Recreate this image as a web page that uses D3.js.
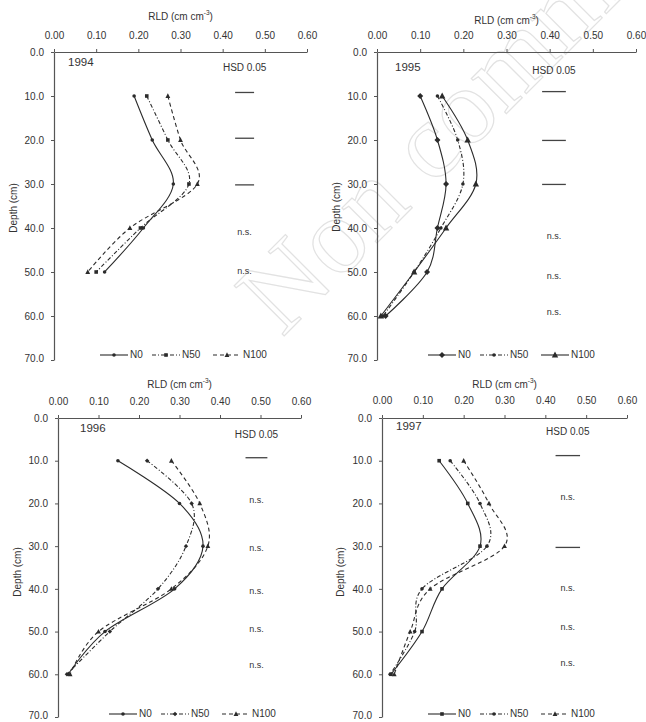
<!DOCTYPE html>
<html><head><meta charset="utf-8">
<script src="https://cdn.jsdelivr.net/npm/d3@7"></script>
<style>
html,body{margin:0;padding:0;background:#fff;}
svg{display:block;font-family:"Liberation Sans",Arial,sans-serif;}
</style></head>
<body>
<svg id="chart" width="646" height="722"></svg>
<script>
// ---------- data ----------
const years = ["1994", "1995", "1996", "1997"];
const seriesNames = ["N0", "N50", "N100"];
const xTicks = [0, 0.1, 0.2, 0.3, 0.4, 0.5, 0.6];
const yTicks = [0, 10, 20, 30, 40, 50, 60, 70];
const depths1994 = [10, 20, 30, 40, 50];
const depths = [10, 20, 30, 40, 50, 60];

const rld1994N0   = [0.190, 0.233, 0.283, 0.212, 0.120];
const rld1994N50  = [0.220, 0.270, 0.320, 0.205, 0.100];
const rld1994N100 = [0.270, 0.300, 0.340, 0.180, 0.080];

const rld1995N0   = [0.100, 0.140, 0.160, 0.140, 0.116, 0.020];
const rld1995N50  = [0.140, 0.187, 0.199, 0.148, 0.086, 0.014];
const rld1995N100 = [0.151, 0.210, 0.229, 0.160, 0.086, 0.009];

const rld1996N0   = [0.148, 0.300, 0.358, 0.288, 0.116, 0.025];
const rld1996N50  = [0.220, 0.330, 0.316, 0.247, 0.128, 0.022];
const rld1996N100 = [0.280, 0.350, 0.370, 0.280, 0.100, 0.030];

const rld1997N0   = [0.140, 0.210, 0.240, 0.147, 0.098, 0.022];
const rld1997N50  = [0.167, 0.240, 0.257, 0.098, 0.080, 0.020];
const rld1997N100 = [0.200, 0.262, 0.300, 0.118, 0.069, 0.030];

// HSD 0.05 annotations: depth (cm) of each entry, and label ("" = bar)
const hsdDepth1994 = [9.2, 19.6, 30.2, 41, 50];
const hsdLabel1994 = ["", "", "", "n.s.", "n.s."];
const hsdDepth1995 = [9, 20.1, 30.1, 42, 51, 59.3];
const hsdLabel1995 = ["", "", "", "n.s.", "n.s.", "n.s."];
const hsdDepth1996 = [9.3, 19.3, 30.5, 40.6, 49.5, 58];
const hsdLabel1996 = ["", "n.s.", "n.s.", "n.s.", "n.s.", "n.s."];
const hsdDepth1997 = [8.8, 18.6, 30.3, 40, 49, 57.6];
const hsdLabel1997 = ["", "n.s.", "", "n.s.", "n.s.", "n.s."];
const hsdValue = [0.045, 0.055, 0.054, 0.06];   // bar length (RLD units)
const hsdCenter = [0.452, 0.410, 0.490, 0.455];   // bar centre (RLD units)

// ---------- layout ----------
const panels = [
  {year: years[0], x0: 54,  x1: 307, y0: 52,  y1: 360, depths: depths1994,
   series: [rld1994N0, rld1994N50, rld1994N100], hsdD: hsdDepth1994, hsdL: hsdLabel1994,
   titleY: 17, tickY: 36, yearX: 68, yearY: 63, hsdTitleY: 68, depthLabX: 14, depthLabY: 208,
   legY: 355, legX: 100,
   styles: [
     {dash: null, marker: "circle", r: 1.8},
     {dash: "4,2,1,2", marker: "square", r: 1.8},
     {dash: "4,3", marker: "triangle", r: 2.4}]},
  {year: years[1], x0: 377, x1: 636, y0: 52, y1: 360, depths: depths,
   series: [rld1995N0, rld1995N50, rld1995N100], hsdD: hsdDepth1995, hsdL: hsdLabel1995,
   titleY: 21, tickY: 36, yearX: 395, yearY: 68, hsdTitleY: 71, depthLabX: 337, depthLabY: 207,
   legY: 355, legX: 428,
   styles: [
     {dash: null, marker: "diamond", r: 3},
     {dash: "4,2,1,2", marker: "circle", r: 1.8},
     {dash: null, marker: "triangle", r: 3.2}]},
  {year: years[2], x0: 58, x1: 301, y0: 418, y1: 717, depths: depths,
   series: [rld1996N0, rld1996N50, rld1996N100], hsdD: hsdDepth1996, hsdL: hsdLabel1996,
   titleY: 385, tickY: 402, yearX: 80, yearY: 429, hsdTitleY: 435, depthLabX: 18, depthLabY: 572,
   legY: 714, legX: 109,
   styles: [
     {dash: null, marker: "circle", r: 1.8},
     {dash: "4,2,1,2", marker: "diamond", r: 2.2},
     {dash: "4,3", marker: "triangle", r: 2.4}]},
  {year: years[3], x0: 382, x1: 627, y0: 418, y1: 717, depths: depths,
   series: [rld1997N0, rld1997N50, rld1997N100], hsdD: hsdDepth1997, hsdL: hsdLabel1997,
   titleY: 385, tickY: 401, yearX: 396, yearY: 427, hsdTitleY: 432, depthLabX: 341, depthLabY: 572,
   legY: 714, legX: 428,
   styles: [
     {dash: null, marker: "square", r: 1.8},
     {dash: "4,2,1,2", marker: "circle", r: 1.8},
     {dash: "4,3", marker: "triangle", r: 2.4}]}
];

const svg = d3.select("#chart");
const ink = "#2b2b2b", axisCol = "#555", textCol = "#333";
const fs = 10;

// faint watermark
svg.append("text")
  .attr("transform", "translate(282,338) rotate(-45)")
  .attr("font-family", "'Liberation Serif', serif")
  .attr("font-size", 108)
  .attr("fill", "none").attr("stroke", "#e2e2e2").attr("stroke-width", 1.2)
  .text("Non comm");

function markerPath(type, r) {
  if (type === "circle") return d3.symbol(d3.symbolCircle, Math.PI * r * r)();
  if (type === "square") return d3.symbol(d3.symbolSquare, 4 * r * r)();
  if (type === "diamond") return `M0,${-r}L${r},0L0,${r}L${-r},0Z`;
  return `M0,${-r * 1.1}L${r},${r * 0.8}L${-r},${r * 0.8}Z`;
}

panels.forEach((p, pi) => {
  const x = d3.scaleLinear().domain([0, 0.6]).range([p.x0, p.x1]);
  const y = d3.scaleLinear().domain([0, 70]).range([p.y0, p.y1]);
  const g = svg.append("g");

  // axes
  const xa = g.append("g").attr("transform", `translate(0,${p.y0})`)
    .call(d3.axisTop(x).tickValues(xTicks).tickFormat(d3.format(".2f")).tickSizeInner(3).tickSizeOuter(0));
  const ya = g.append("g").attr("transform", `translate(${p.x0},0)`)
    .call(d3.axisLeft(y).tickValues(yTicks).tickFormat(d3.format(".1f")).tickSizeInner(3).tickSizeOuter(0).tickPadding(7));
  [xa, ya].forEach(a => {
    a.select(".domain").attr("stroke", axisCol).attr("stroke-width", 1.2);
    a.selectAll(".tick line").attr("stroke", axisCol);
    a.selectAll(".tick text").attr("fill", textCol).attr("font-size", fs)
      .attr("font-family", "'Liberation Sans', Arial, sans-serif");
  });
  ya.selectAll(".tick text").filter(d => d === 70).attr("dy", "0.15em");
  xa.selectAll(".tick text").attr("dy", null).attr("y", p.tickY - p.y0)
    .attr("dominant-baseline", "middle");

  // axis titles
  const t = g.append("text").attr("x", (p.x0 + p.x1) / 2).attr("y", p.titleY)
    .attr("text-anchor", "middle").attr("dominant-baseline", "middle")
    .attr("font-size", fs).attr("fill", textCol);
  t.append("tspan").text("RLD (cm cm");
  t.append("tspan").attr("font-size", 6.5).attr("dy", -4).text("-3");
  t.append("tspan").attr("dy", 4).text(")");

  g.append("text").attr("transform", `translate(${p.depthLabX},${p.depthLabY}) rotate(-90)`)
    .attr("text-anchor", "middle").attr("dominant-baseline", "middle")
    .attr("font-size", fs).attr("fill", textCol).text("Depth (cm)");

  g.append("text").attr("x", p.yearX).attr("y", p.yearY).attr("dominant-baseline", "middle")
    .attr("font-size", 11.5).attr("fill", textCol).text(p.year);

  // HSD
  g.append("text").attr("x", x(hsdCenter[pi])).attr("y", p.hsdTitleY)
    .attr("text-anchor", "middle").attr("dominant-baseline", "middle")
    .attr("font-size", fs).attr("fill", textCol).text("HSD 0.05");
  p.hsdD.forEach((d, i) => {
    if (p.hsdL[i] === "") {
      g.append("line")
        .attr("x1", x(hsdCenter[pi] - hsdValue[pi] / 2)).attr("x2", x(hsdCenter[pi] + hsdValue[pi] / 2))
        .attr("y1", y(d)).attr("y2", y(d)).attr("stroke", "#444").attr("stroke-width", 1.3);
    } else {
      g.append("text").attr("x", x(hsdCenter[pi])).attr("y", y(d))
        .attr("text-anchor", "middle").attr("dominant-baseline", "middle")
        .attr("font-size", 9).attr("fill", textCol).text(p.hsdL[i]);
    }
  });

  // series
  p.series.forEach((vals, si) => {
    const st = p.styles[si];
    const pts = vals.map((v, i) => [x(v), y(p.depths[i])]);
    g.append("path").attr("d", d3.line().curve(d3.curveCardinal.tension(0))(pts))
      .attr("fill", "none").attr("stroke", ink).attr("stroke-width", 1.1)
      .attr("stroke-dasharray", st.dash);
    pts.forEach(pt => {
      g.append("path").attr("d", markerPath(st.marker, st.r))
        .attr("transform", `translate(${pt[0]},${pt[1]})`).attr("fill", ink);
    });
  });

  // legend
  const legGap = [52, 61];
  let lx = p.legX;
  const lg = g.append("g");
  seriesNames.forEach((name, si) => {
    const st = p.styles[si];
    lg.append("line").attr("x1", lx).attr("x2", lx + 28).attr("y1", p.legY).attr("y2", p.legY)
      .attr("stroke", ink).attr("stroke-width", 1.1).attr("stroke-dasharray", st.dash);
    lg.append("path").attr("d", markerPath(st.marker, st.r))
      .attr("transform", `translate(${lx + 14},${p.legY})`).attr("fill", ink);
    lg.append("text").attr("x", lx + 30).attr("y", p.legY).attr("dominant-baseline", "middle")
      .attr("font-size", fs).attr("fill", textCol).text(name);
    lx += si < 2 ? legGap[si] : 0;
  });
});
</script>
</body></html>
